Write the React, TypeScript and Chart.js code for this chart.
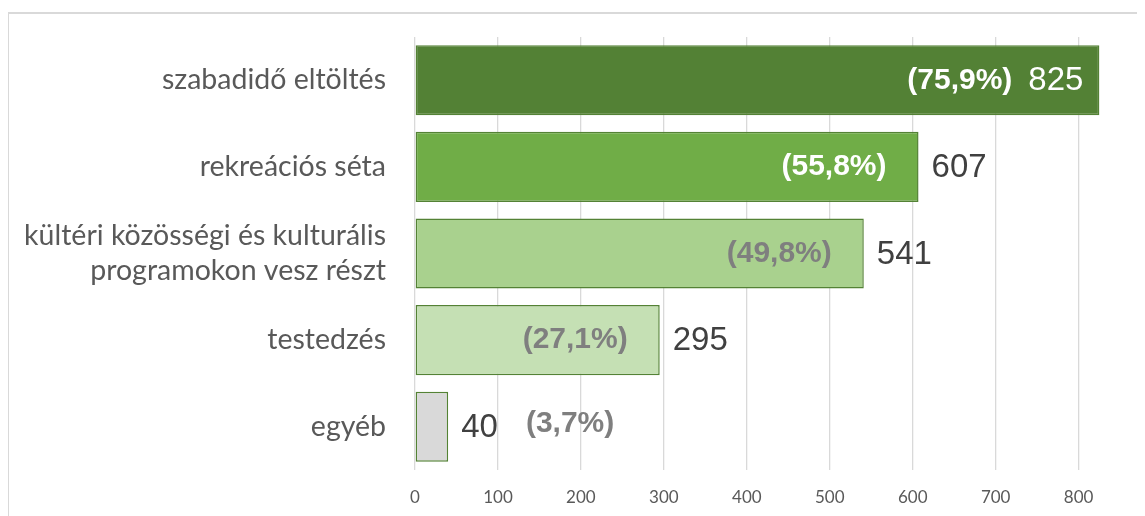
import React, { useEffect, useRef } from "react";
import { Chart, registerables } from "chart.js";

Chart.register(...registerables);

const categories: (string | string[])[] = [
  "szabadidő eltöltés",
  "rekreációs séta",
  ["kültéri közösségi és kulturális", "programokon vesz részt"],
  "testedzés",
  "egyéb",
];
const counts = [825, 607, 541, 295, 40];
const percents = ["(75,9%)", "(55,8%)", "(49,8%)", "(27,1%)", "(3,7%)"];
const barColors = ["#538135", "#70AD47", "#A9D18E", "#C5E0B4", "#D9D9D9"];
const pctColors = ["#FFFFFF", "#FFFFFF", "#7F7F7F", "#7F7F7F", "#7F7F7F"];
const xMax = 880;
const xStep = 100;

const labelPlugin = {
  id: "barLabels",
  afterDatasetsDraw(chart: any) {
    const ctx = chart.ctx;
    const meta = chart.getDatasetMeta(0);
    const area = chart.chartArea;
    ctx.save();
    ctx.textBaseline = "middle";
    meta.data.forEach((bar: any, i: number) => {
      const end = bar.x;
      const base = bar.base;
      const y = bar.y;
      const valText = String(counts[i]);
      ctx.font = "33px 'Liberation Sans', Arial, sans-serif";
      const vw = ctx.measureText(valText).width;
      let valInside = end + 13 + vw > area.right;
      let valLeft: number;
      if (valInside) {
        valLeft = end - 16 - vw;
        ctx.fillStyle = "#FFFFFF";
      } else {
        valLeft = end + 13;
        ctx.fillStyle = "#404040";
      }
      ctx.textAlign = "left";
      ctx.fillText(valText, valLeft, y + 1);

      ctx.font = "bold 30px 'Liberation Sans', Arial, sans-serif";
      const pw = ctx.measureText(percents[i]).width;
      ctx.fillStyle = pctColors[i];
      if (valInside) {
        ctx.textAlign = "right";
        ctx.fillText(percents[i], valLeft - 16, y);
      } else if (end - base > pw + 45) {
        ctx.textAlign = "right";
        ctx.fillText(percents[i], end - 32, y);
      } else {
        ctx.textAlign = "left";
        ctx.fillText(percents[i], valLeft + vw + 28, y - 3);
      }
    });
    ctx.restore();
  },
};

export default function App() {
  const ref = useRef<HTMLCanvasElement | null>(null);
  useEffect(() => {
    document.body.style.overflow = "hidden";
    const chart = new Chart(ref.current as HTMLCanvasElement, {
      type: "bar",
      data: {
        labels: categories,
        datasets: [
          {
            data: counts,
            backgroundColor: barColors,
            borderColor: "#548235",
            borderWidth: 1.5,
            borderSkipped: false,
            barPercentage: 0.81,
            categoryPercentage: 1,
          },
        ],
      },
      options: {
        indexAxis: "y",
        responsive: false,
        animation: false,
        layout: { padding: { top: 29, right: 0, bottom: 0, left: 0 } },
        plugins: {
          legend: { display: false },
          tooltip: { enabled: false },
        },
        scales: {
          x: {
            min: 0,
            max: xMax,
            grid: { color: "#D9D9D9", lineWidth: 1.3, drawTicks: false },
            border: { display: false },
            ticks: {
              stepSize: xStep,
              padding: 17,
              color: "#595959",
              font: { family: "Lato, 'Open Sans', sans-serif", size: 17 },
            },
            afterBuildTicks: (s: any) => {
              s.ticks = s.ticks.filter((t: any) => t.value % xStep === 0);
            },
            afterFit: (s: any) => {
              s.height = 46;
              s.paddingLeft = 0;
              s.paddingRight = 0;
            },
          },
          y: {
            grid: { display: false, drawTicks: false },
            border: { display: false },
            ticks: {
              padding: 29,
              color: "#595959",
              font: { family: "Lato, 'Open Sans', sans-serif", size: 28.5, lineHeight: 1.22 },
            },
            afterFit: (s: any) => {
              s.width = 407;
              s.paddingTop = 0;
              s.paddingBottom = 0;
            },
          },
        },
      },
      plugins: [labelPlugin],
    } as any);
    return () => chart.destroy();
  }, []);

  return (
    <div style={{ position: "relative", width: 1137, height: 508 }}>
      <div
        style={{
          position: "absolute",
          left: -1,
          top: 4,
          width: 1300,
          height: 700,
          border: "2px solid #D9D9D9",
          boxSizing: "border-box",
        }}
      />
      <canvas
        ref={ref}
        width={1137}
        height={508}
        style={{ position: "absolute", left: 0, top: 0, width: 1137, height: 508 }}
      />
    </div>
  );
}
